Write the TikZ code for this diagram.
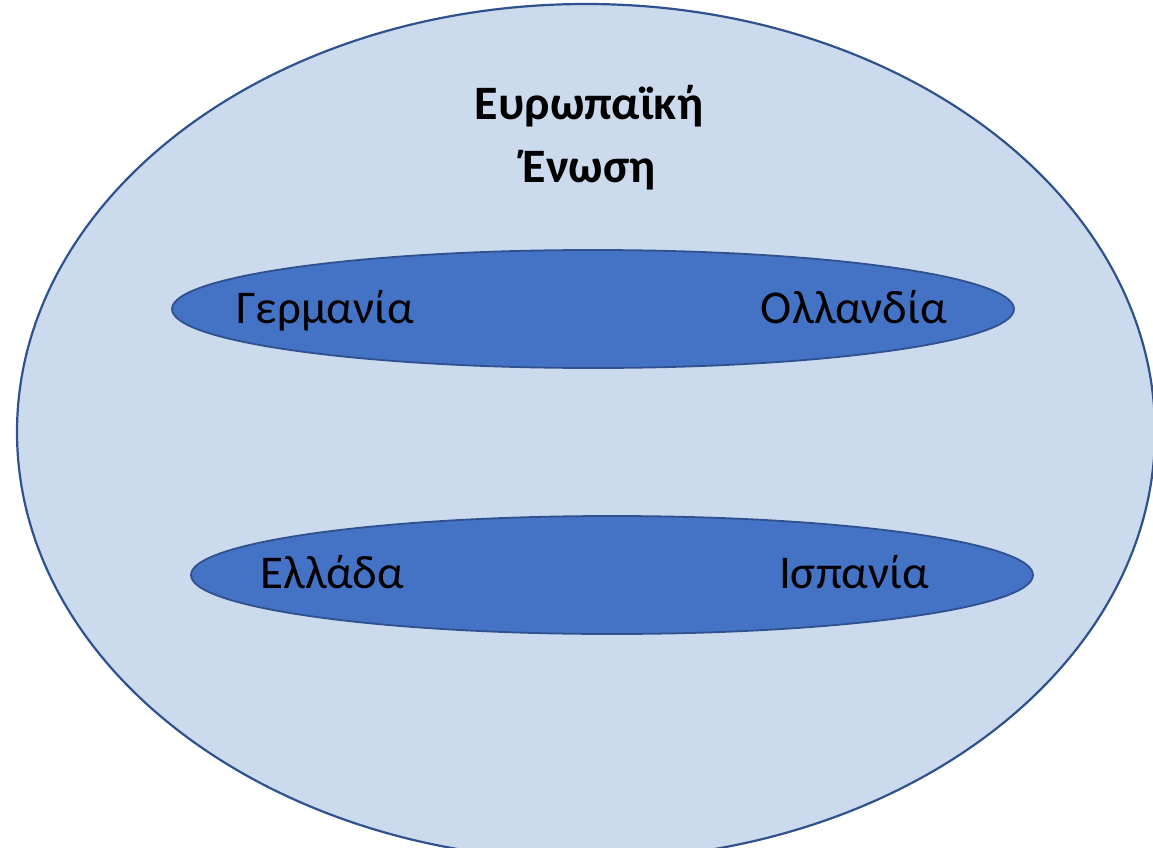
\documentclass[tikz,border=0pt]{standalone}
\usepackage{fontspec}
\setmainfont{Carlito}
\usetikzlibrary{shapes.geometric}
\definecolor{outerfill}{HTML}{CCDAEE}
\definecolor{edge}{HTML}{2F528F}
\definecolor{innerfill}{HTML}{4472C4}
\tikzset{
  outerell/.style={ellipse, draw=edge, line width=2.2pt, fill=outerfill, inner sep=0pt},
  innerell/.style={ellipse, draw=edge, line width=1.8pt, fill=innerfill, inner sep=0pt},
  lab/.style={font=\fontsize{47}{56}\selectfont, anchor=base, inner sep=0pt},
  title/.style={font=\fontsize{48}{56}\selectfont\bfseries, align=center, inner sep=0pt, anchor=base}
}
\begin{document}
\begin{tikzpicture}[x=1pt,y=-1pt]
\useasboundingbox (0,0) rectangle (1153,848);
\begin{scope}
\clip (0,0) rectangle (1153,848);
\node[outerell, minimum width=1138pt, minimum height=856pt] (eu) at (586,432) {};
\end{scope}
\node[innerell, minimum width=842pt, minimum height=118pt] (top) at (593,309) {};
\node[innerell, minimum width=842pt, minimum height=118pt] (bot) at (612,575) {};
\node[title] (t1) at (589,120) {Ευρωπαϊκή};
\node[title] (t2) at (589,182) {Ένωση};
\node[lab] (de) at (325,323) {Γερμανία};
\node[lab] (nl) at (854,323) {Ολλανδία};
\node[lab] (gr) at (332,588) {Ελλάδα};
\node[lab] (es) at (854,588) {Ισπανία};
\end{tikzpicture}
\end{document}
